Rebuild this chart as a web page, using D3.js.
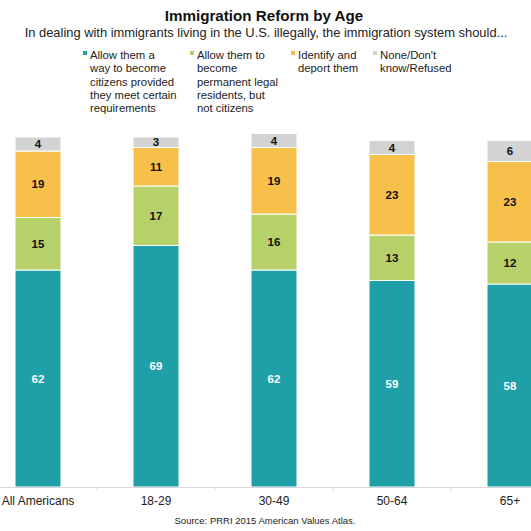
<!DOCTYPE html>
<html><head><meta charset="utf-8">
<script src="https://cdn.jsdelivr.net/npm/d3@7"></script>
<style>body{margin:0;background:#fff;}svg{display:block;font-family:"Liberation Sans",Arial,sans-serif;}</style>
</head><body>
<script>
const categories = ["All Americans","18-29","30-49","50-64","65+"];
const citizens = [62,69,62,59,58];
const residents = [15,17,16,13,12];
const deport = [19,11,19,23,23];
const noneDK = [4,3,4,4,6];
const seriesNames = ["Allow them a way to become citizens provided they meet certain requirements","Allow them to become permanent legal residents, but not citizens","Identify and deport them","None/Don't know/Refused"];
const legendLines = [["Allow them a","way to become","citizens provided","they meet certain","requirements"],["Allow them to","become","permanent legal","residents, but","not citizens"],["Identify and","deport them"],["None/Don't","know/Refused"]];
const colors = ["#1fa0a8","#b6d06a","#f6c04b","#d3d3d3"];
const labelColors = ["#fff","#111","#111","#111"];

const W=531,H=531;
const svg=d3.select("body").append("svg").attr("width",W).attr("height",H);

svg.append("text").attr("x",264).attr("y",21).attr("text-anchor","middle")
 .attr("font-size",15.2).attr("font-weight","bold").attr("fill","#111").text("Immigration Reform by Age");
svg.append("text").attr("x",266).attr("y",37).attr("text-anchor","middle")
 .attr("font-size",12.9).attr("fill","#222").text("In dealing with immigrants living in the U.S. illegally, the immigration system should...");

const legX=[86,193,294,376];
legendLines.forEach((lines,i)=>{
  const g=svg.append("g");
  g.append("rect").attr("x",legX[i]-3).attr("y",51).attr("width",4).attr("height",4).attr("fill",colors[i]);
  lines.forEach((l,j)=>g.append("text").attr("x",legX[i]+4).attr("y",59+j*13.3).attr("font-size",11.3).attr("fill","#222").text(l));
});

const data=categories.map((c,i)=>({cat:c,vals:[citizens[i],residents[i],deport[i],noneDK[i]]}));
const x=d3.scalePoint().domain(categories).range([38,510]);
const y=d3.scaleLinear().domain([0,100]).range([487,137]);
const bw=46;

data.forEach(d=>{
  let acc=0;
  d.vals.forEach((v,k)=>{
    const y0=acc, y1=acc+v; acc=y1;
    svg.append("rect").attr("x",x(d.cat)-bw/2).attr("y",y(y1)).attr("width",bw).attr("height",y(y0)-y(y1))
      .attr("fill",colors[k]).attr("stroke","#fff").attr("stroke-width",1);
    svg.append("text").attr("x",x(d.cat)).attr("y",(y(y0)+y(y1))/2+4).attr("text-anchor","middle")
      .attr("font-size",11.5).attr("font-weight","bold").attr("fill",labelColors[k]).text(v);
  });
});

// axis
const axisG=svg.append("g");
axisG.append("line").attr("x1",0).attr("x2",W).attr("y1",487.5).attr("y2",487.5).attr("stroke","#d8d8d8");
const step=x.step();
categories.slice(0,-1).forEach(c=>{
  axisG.append("line").attr("x1",x(c)+step/2).attr("x2",x(c)+step/2).attr("y1",487.5).attr("y2",491).attr("stroke","#d8d8d8");
});
categories.forEach(c=>{
  axisG.append("text").attr("x",x(c)).attr("y",505).attr("text-anchor","middle").attr("font-size",12).attr("fill","#222").text(c);
});
svg.append("text").attr("x",265).attr("y",524).attr("text-anchor","middle").attr("font-size",9.5).attr("fill","#222").text("Source: PRRI 2015 American Values Atlas.");
</script>
</body></html>
